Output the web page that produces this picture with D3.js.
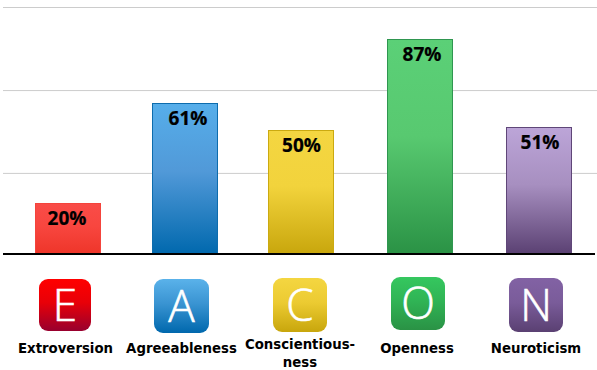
<!DOCTYPE html>
<html>
<head>
<meta charset="utf-8">
<script src="https://cdn.jsdelivr.net/npm/d3@7"></script>
<style>
  html, body { margin: 0; padding: 0; background: #fff; }
  svg { display: block; }
</style>
</head>
<body>
<script>
// values
const categories = ["Extroversion", "Agreeableness", "Conscientiousness", "Openness", "Neuroticism"];
const letters = ["E", "A", "C", "O", "N"];
const values = [20, 61, 50, 87, 51];
const gridValues = [32.3, 66.1, 100];
const labelLines = [["Extroversion"], ["Agreeableness"], ["Conscientious-", "ness"], ["Openness"], ["Neuroticism"]];

// bar colours: top, middle, bottom, border
const barColors = [
  ["#f94c48", "#f8463f", "#ee3529", "#f4443c"],
  ["#56aeea", "#5199d8", "#0068ad", "#0d6cad"],
  ["#f4d641", "#f2d33c", "#c8a60c", "#cbaa10"],
  ["#5bd077", "#58c970", "#2a9245", "#2f9650"],
  ["#bca5d8", "#a78fc0", "#5a4072", "#5f4678"]
];
const iconColors = [
  ["#ff0000", "#e80008", "#98002e"],
  ["#5ab2ea", "#3a94d2", "#0068ad"],
  ["#f4d641", "#eccb32", "#c8a60c"],
  ["#35c75f", "#30b455", "#2a9245"],
  ["#8262a4", "#7a5c9a", "#5a4072"]
];

const width = 597;
const height = 370;

// the bars are not evenly spaced in the original so the left edges go in the range
const x = d3.scaleOrdinal().domain(categories).range([35, 152, 268, 387, 506]);
const barWidth = 66;
// axis starts just under zero, the bars sit a little below y(0) on the baseline
const y = d3.scaleLinear().domain([-0.8, 100]).range([254, 7]);
const baseY = 254;

const iconX = d3.scaleOrdinal().domain(categories).range([39, 154, 273, 391, 509]);
const iconY = d3.scaleOrdinal().domain(categories).range([279, 279, 278, 277, 278]);
const iconW = d3.scaleOrdinal().domain(categories).range([52, 55, 54, 54, 54]);
const iconH = d3.scaleOrdinal().domain(categories).range([52, 54, 54, 53, 54]);
const labelX = d3.scaleOrdinal().domain(categories).range([65.5, 181.5, 300, 417, 536]);
const pctX = d3.scaleOrdinal().domain(categories).range([67, 188, 301.5, 422, 540]);

const svg = d3.select("body")
  .append("svg")
  .attr("width", width)
  .attr("height", height);

const defs = svg.append("defs");

function addGradient(id, stops) {
  const g = defs.append("linearGradient")
    .attr("id", id)
    .attr("x1", 0).attr("y1", 0)
    .attr("x2", 0).attr("y2", 1);
  g.append("stop").attr("offset", "0%").attr("stop-color", stops[0]);
  g.append("stop").attr("offset", "45%").attr("stop-color", stops[1]);
  g.append("stop").attr("offset", "100%").attr("stop-color", stops[2]);
}
barColors.forEach((c, i) => addGradient("bar" + i, c));
iconColors.forEach((c, i) => addGradient("icon" + i, c));

// gridlines
const grid = d3.axisLeft(y)
  .tickValues(gridValues)
  .tickSize(-(width - 3))
  .tickFormat("");

const gridG = svg.append("g")
  .attr("transform", "translate(3, 0)")
  .call(grid);
gridG.select(".domain").remove();
gridG.selectAll("line").attr("stroke", "#cccccc").attr("stroke-width", 1);

// bars
svg.selectAll("rect.bar")
  .data(values)
  .enter()
  .append("rect")
  .attr("class", "bar")
  .attr("x", (d, i) => x(categories[i]) + 0.5)
  .attr("y", d => Math.round(y(d)) + 0.5)
  .attr("width", barWidth - 1)
  .attr("height", d => baseY - Math.round(y(d)))
  .attr("fill", (d, i) => "url(#bar" + i + ")")
  .attr("stroke", (d, i) => barColors[i][3])
  .attr("stroke-width", 1);

// percent labels
svg.selectAll("text.pct")
  .data(values)
  .enter()
  .append("text")
  .attr("class", "pct")
  .attr("x", (d, i) => pctX(categories[i]))
  .attr("y", d => y(d) + 22)
  .attr("text-anchor", "middle")
  .attr("font-family", "'Open Sans', 'Noto Sans', sans-serif")
  .attr("font-weight", 700)
  .attr("font-size", 19)
  .attr("fill", "#000")
  .attr("stroke", "#000")
  .attr("stroke-width", 0.2)
  .text(d => d + "%");

// baseline
svg.append("line")
  .attr("x1", 3).attr("x2", 595)
  .attr("y1", baseY).attr("y2", baseY)
  .attr("stroke", "#000")
  .attr("stroke-width", 2);

// icons
svg.selectAll("rect.icon")
  .data(categories)
  .enter()
  .append("rect")
  .attr("class", "icon")
  .attr("x", d => iconX(d))
  .attr("y", d => iconY(d))
  .attr("width", d => iconW(d))
  .attr("height", d => iconH(d))
  .attr("rx", 9)
  .attr("fill", (d, i) => "url(#icon" + i + ")");

svg.selectAll("text.letter")
  .data(categories)
  .enter()
  .append("text")
  .attr("class", "letter")
  .attr("x", d => iconX(d) + iconW(d) / 2)
  .attr("y", d => iconY(d) + iconH(d) / 2 + 15.5)
  .attr("text-anchor", "middle")
  .attr("font-family", "'Open Sans', 'Noto Sans', sans-serif")
  .attr("font-weight", 300)
  .attr("font-size", 44)
  .attr("fill", "#fff")
  .attr("stroke", "#fff")
  .attr("stroke-width", 0.6)
  .text((d, i) => letters[i]);

// category labels
const catLabels = svg.selectAll("text.cat")
  .data(categories)
  .enter()
  .append("text")
  .attr("class", "cat")
  .attr("y", (d, i) => labelLines[i].length > 1 ? 349 : 352.5)
  .attr("text-anchor", "middle")
  .attr("font-family", "'DejaVu Sans', Verdana, sans-serif")
  .attr("font-weight", 700)
  .attr("font-size", 13.3)
  .attr("fill", "#000");

catLabels.each(function(d, i) {
  d3.select(this).selectAll("tspan")
    .data(labelLines[i])
    .enter()
    .append("tspan")
    .attr("x", labelX(d))
    .attr("dy", (l, j) => j ? 18 : 0)
    .text(l => l);
});
</script>
</body>
</html>
